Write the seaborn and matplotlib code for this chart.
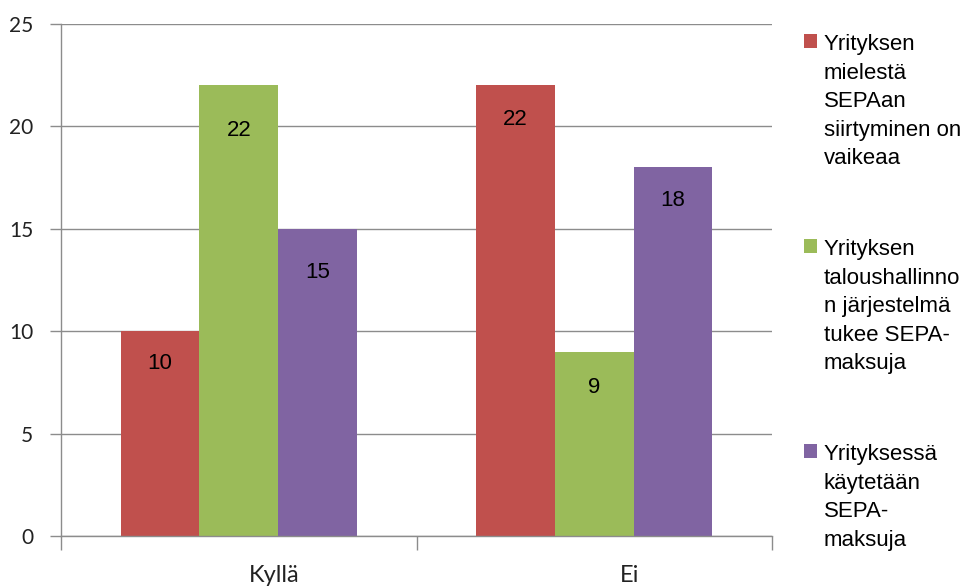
import matplotlib
matplotlib.use("Agg")
import matplotlib.pyplot as plt
import matplotlib.transforms as mtransforms
import seaborn as sns
import pandas as pd

categories = ["Kyllä", "Ei"]
series_names = [
    "Yrityksen\nmielestä\nSEPAan\nsiirtyminen on\nvaikeaa",
    "Yrityksen\ntaloushallinno\nn järjestelmä\ntukee SEPA-\nmaksuja",
    "Yrityksessä\nkäytetään\nSEPA-\nmaksuja",
]
s1_values = [10, 22]
s2_values = [22, 9]
s3_values = [15, 18]
colors = ["#C0504D", "#9BBB59", "#8064A2"]
yticks = [0, 5, 10, 15, 20, 25]

# styling: how far (px) each value label sits below its bar top
label_drop_px = [[32, 34], [45, 36], [44, 33]]

rows = []
for name, vals in zip(series_names, [s1_values, s2_values, s3_values]):
    for c, v in zip(categories, vals):
        rows.append({"cat": c, "series": name, "value": v})
df = pd.DataFrame(rows)

sns.set_theme(style="white")
plt.rcParams["font.family"] = ["Liberation Sans", "DejaVu Sans"]

fig = plt.figure(figsize=(9.64, 5.87), dpi=100)
ax = fig.add_axes([61 / 964, 1 - 536 / 587, (772 - 61) / 964, (536 - 24) / 587])

sns.barplot(data=df, x="cat", y="value", hue="series", order=categories,
            hue_order=series_names, palette=colors, width=0.665,
            saturation=1, ax=ax, legend=True, errorbar=None, linewidth=0)

px2pt = 72 / 100
for si, cont in enumerate(ax.containers):
    for ci, p in enumerate(cont.patches):
        h = p.get_height()
        ax.annotate(f"{int(round(h))}", (p.get_x() + p.get_width() / 2, h),
                    xytext=(0, -label_drop_px[si][ci] * px2pt), textcoords="offset points",
                    ha="center", va="center", fontsize=16, color="black",
                    family=["Liberation Sans"])

grid_c = "#8C8C8C"
ax.set_ylim(0, 25)
ax.set_xlim(-0.5, 1.5)
ax.set_yticks(yticks)
ax.set_yticklabels([str(t) for t in yticks], family=["Lato", "DejaVu Sans"], fontsize=15,
                   color="#222222")
ax.yaxis.grid(True, color=grid_c, linewidth=1)
ax.set_axisbelow(True)
ax.tick_params(axis="y", length=8, width=1, color=grid_c, pad=12, left=True)

ax.set_xticks([0, 1])
ax.set_xticklabels(categories, family=["Lato", "DejaVu Sans"], fontsize=17, color="#222222")
ax.set_xticks([-0.5, 0.5, 1.5], minor=True)
ax.tick_params(axis="x", which="major", length=0, pad=21)
ax.tick_params(axis="x", which="minor", length=10, width=1, color=grid_c, bottom=True)
offset = mtransforms.ScaledTranslation(35 / 100, 0, fig.dpi_scale_trans)
for lbl in ax.get_xticklabels():
    lbl.set_transform(lbl.get_transform() + offset)

for side in ["top", "right"]:
    ax.spines[side].set_visible(False)
for side in ["left", "bottom"]:
    ax.spines[side].set_color(grid_c)
    ax.spines[side].set_linewidth(1)
ax.set_xlabel("")
ax.set_ylabel("")

handles, labels = ax.get_legend_handles_labels()
ax.get_legend().remove()
leg = fig.legend(handles, labels, loc="upper left", bbox_to_anchor=(804 / 964, 1 - 34 / 587),
                 frameon=False, fontsize=16, handlelength=0.59, handleheight=0.59,
                 handletextpad=0.3, labelspacing=3.15, borderpad=0, borderaxespad=0)
for t in leg.get_texts():
    t.set_linespacing(1.47)
    t.set_color("black")
for col in leg._legend_handle_box.get_children():
    for hp in col.get_children():
        hp.align = "top"

fig.savefig("out.png", dpi=100)
